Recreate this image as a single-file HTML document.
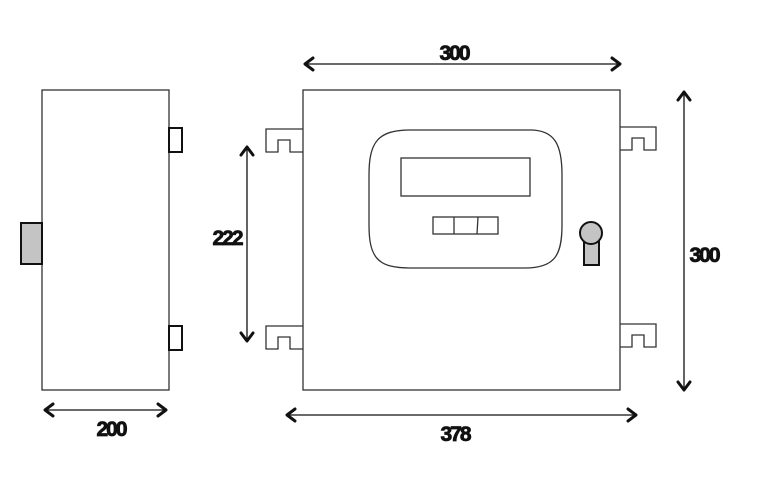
<!DOCTYPE html>
<html><head><meta charset="utf-8"><style>
html,body{margin:0;padding:0;background:#fff;}
svg{display:block;}
</style></head><body>
<svg width="768" height="480" viewBox="0 0 768 480" xmlns="http://www.w3.org/2000/svg">
<g fill="none" stroke="#333" stroke-width="1.3">
<rect x="42" y="90" width="127" height="300"/>
<rect x="169" y="128" width="13" height="24" stroke="#111" stroke-width="2"/>
<rect x="169" y="326" width="13" height="24" stroke="#111" stroke-width="2"/>
<rect x="303" y="90" width="317" height="300"/>
<path d="M303 129 H266 V152 H278 V140 H290 V152 H303"/>
<path d="M303 326 H266 V349 H278 V337 H290 V349 H303"/>
<path d="M620 127 H656 V150 H644 V138 H632 V150 H620"/>
<path d="M620 324 H656 V347 H644 V335 H632 V347 H620"/>
<path d="M410 130 H530 C555 130 562 145 562 175 V225 C562 255 555 268 525 268 H410 C378 268 369 258 369 225 V175 C369 142 378 130 410 130 Z"/>
<rect x="401" y="158" width="129" height="38"/>
<rect x="433" y="217" width="65" height="17"/>
<line x1="454" y1="217" x2="454" y2="234"/>
<line x1="478" y1="217" x2="477" y2="234"/>
</g>
<rect x="21" y="223" width="21" height="41" fill="#c4c4c4" stroke="#111" stroke-width="2"/>
<rect x="584" y="242" width="15" height="23" fill="#c4c4c4" stroke="#111" stroke-width="2"/>
<circle cx="591" cy="233" r="11" fill="#c4c4c4" stroke="#111" stroke-width="2"/>
<g stroke="#111" stroke-width="1.3" fill="none">
<line x1="305" y1="64" x2="620" y2="64"/>
<line x1="287" y1="415" x2="636" y2="415"/>
<line x1="45" y1="410" x2="166" y2="410"/>
<line x1="684" y1="92" x2="684" y2="390"/>
<line x1="247" y1="147" x2="247" y2="341"/>
</g>
<g stroke="#111" stroke-width="3" fill="none" stroke-linecap="round" stroke-linejoin="round">
<path d="M313 58 L305 64 L313 70"/><path d="M612 58 L620 64 L612 70"/>
<path d="M295 409 L287 415 L295 421"/><path d="M628 409 L636 415 L628 421"/>
<path d="M53 404 L45 410 L53 416"/><path d="M158 404 L166 410 L158 416"/>
<path d="M678 100 L684 92 L690 100"/><path d="M678 382 L684 390 L690 382"/>
<path d="M241 155 L247 147 L253 155"/><path d="M241 333 L247 341 L253 333"/>
</g>
<g font-family="Liberation Sans, sans-serif" font-weight="bold" font-size="21" letter-spacing="-2" fill="#111" stroke="#111" stroke-width="0.8" text-anchor="middle">
<text x="454" y="60">300</text>
<text x="455" y="441">378</text>
<text x="111" y="436">200</text>
<text x="704" y="262">300</text>
<text x="227" y="245">222</text>
</g>
</svg>
</body></html>
